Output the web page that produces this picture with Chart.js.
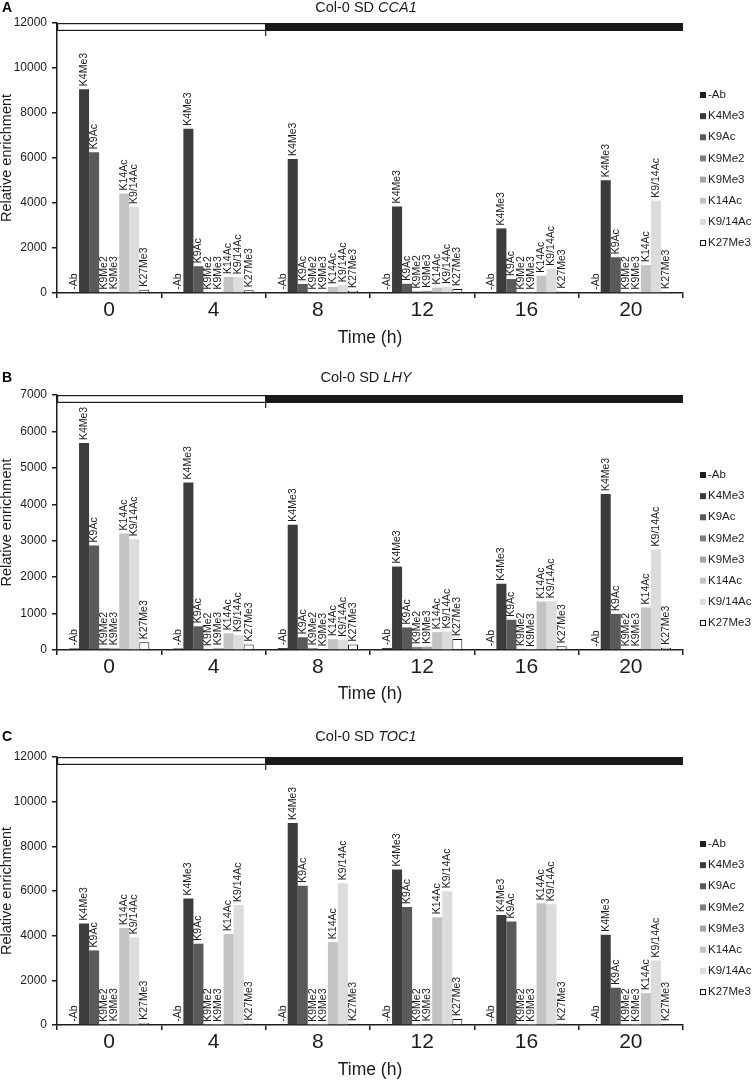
<!DOCTYPE html>
<html><head><meta charset="utf-8">
<script src="https://cdn.jsdelivr.net/npm/chart.js@4.4.0/dist/chart.umd.min.js"></script>
<style>
html,body{margin:0;padding:0;background:#fff;width:753px;height:1082px;overflow:hidden;}
.panel{position:absolute;left:0;width:753px;}
canvas{display:block;}
</style></head><body>
<div class="panel" style="top:0px;height:350px"><canvas id="cA" width="753" height="350"></canvas></div>
<div class="panel" style="top:350px;height:355px"><canvas id="cB" width="753" height="355"></canvas></div>
<div class="panel" style="top:705px;height:377px"><canvas id="cC" width="753" height="377"></canvas></div>
<script>
const FONT = '"Liberation Sans", Arial, Helvetica, sans-serif';
const INK = '#1c1c1c';

// ---- data ----
const timePoints = ['0', '4', '8', '12', '16', '20'];
const marks = ['-Ab', 'K4Me3', 'K9Ac', 'K9Me2', 'K9Me3', 'K14Ac', 'K9/14Ac', 'K27Me3'];

// A: Col-0 SD CCA1
const cca1_Ab     = [15, 10, 10, 10, 10, 10];
const cca1_K4Me3  = [9060, 7300, 5960, 3850, 2870, 5010];
const cca1_K9Ac   = [6260, 1190, 400, 410, 620, 1590];
const cca1_K9Me2  = [20, 20, 20, 70, 20, 20];
const cca1_K9Me3  = [30, 20, 20, 100, 20, 20];
const cca1_K14Ac  = [4420, 710, 270, 240, 770, 1240];
const cca1_K914Ac = [3820, 700, 350, 280, 1080, 4100];
const cca1_K27Me3 = [150, 120, 90, 180, 70, 50];

// B: Col-0 SD LHY
const lhy_Ab     = [40, 40, 50, 50, 20, 10];
const lhy_K4Me3  = [5680, 4600, 3440, 2290, 1820, 4280];
const lhy_K9Ac   = [2870, 650, 350, 620, 830, 990];
const lhy_K9Me2  = [50, 30, 50, 80, 30, 20];
const lhy_K9Me3  = [50, 50, 20, 90, 10, 20];
const lhy_K14Ac  = [3200, 460, 300, 490, 1330, 1170];
const lhy_K914Ac = [3040, 410, 280, 510, 1340, 2760];
const lhy_K27Me3 = [210, 150, 150, 300, 100, 60];

// C: Col-0 SD TOC1
const toc1_Ab     = [10, 10, 10, 10, 10, 10];
const toc1_K4Me3  = [4550, 5660, 9040, 6960, 4930, 4040];
const toc1_K9Ac   = [3340, 3640, 6230, 5280, 4630, 1670];
const toc1_K9Me2  = [10, 10, 10, 10, 10, 10];
const toc1_K9Me3  = [30, 10, 10, 30, 10, 10];
const toc1_K14Ac  = [4340, 4080, 3710, 4830, 5450, 1430];
const toc1_K914Ac = [3930, 5370, 6350, 5990, 5410, 2890];
const toc1_K27Me3 = [100, 70, 40, 270, 70, 40];

const yMaxA = 12000, yStepA = 2000;
const yMaxB = 7000,  yStepB = 1000;
const yMaxC = 12000, yStepC = 2000;

// ---- styles ----
const markFill = ['#1e1e1e', '#3c3c3c', '#5a5a5a', '#7e7e7e', '#a4a4a4', '#c3c3c3', '#dcdcdc', '#ffffff'];
const markBorder = ['#1e1e1e', '#3c3c3c', '#5a5a5a', '#7e7e7e', '#a4a4a4', '#c3c3c3', '#dcdcdc', '#111111'];

const panels = [
  { canvas: 'cA', letter: 'A', gene: 'CCA1', max: yMaxA, step: yStepA,
    series: [cca1_Ab, cca1_K4Me3, cca1_K9Ac, cca1_K9Me2, cca1_K9Me3, cca1_K14Ac, cca1_K914Ac, cca1_K27Me3],
    padTop: 23, xH: 57, titlePadBottom: 1.5, titleY: 8, legendTop: 95 },
  { canvas: 'cB', letter: 'B', gene: 'LHY', max: yMaxB, step: yStepB,
    series: [lhy_Ab, lhy_K4Me3, lhy_K9Ac, lhy_K9Me2, lhy_K9Me3, lhy_K14Ac, lhy_K914Ac, lhy_K27Me3],
    padTop: 45, xH: 55, titlePadBottom: 0, titleY: 28, legendTop: 125 },
  { canvas: 'cC', letter: 'C', gene: 'TOC1', max: yMaxC, step: yStepC,
    series: [toc1_Ab, toc1_K4Me3, toc1_K9Ac, toc1_K9Me2, toc1_K9Me3, toc1_K14Ac, toc1_K914Ac, toc1_K27Me3],
    padTop: 52, xH: 57, titlePadBottom: 1.5, titleY: 32, legendTop: 139 }
];

const decorPlugin = {
  id: 'decor',
  beforeDatasetsDraw(chart) {
    const ctx = chart.ctx, a = chart.chartArea, xs = chart.scales.x;
    const split = (xs.getPixelForValue(1) + xs.getPixelForValue(2)) / 2;
    const top = a.top, h = 8;
    ctx.save();
    ctx.fillStyle = '#1a1a1a';
    ctx.fillRect(split, top, a.right - split, h);
    ctx.fillStyle = '#ffffff';
    ctx.fillRect(a.left, top, split - a.left, h);
    ctx.strokeStyle = INK; ctx.lineWidth = 1.2;
    ctx.strokeRect(a.left + 0.6, top + 0.6, split - a.left - 0.6, h - 1.2);
    ctx.beginPath(); ctx.moveTo(split, top); ctx.lineTo(split, top + 13); ctx.stroke();
    ctx.restore();
  },
  afterDatasetsDraw(chart) {
    const ctx = chart.ctx;
    ctx.save();
    ctx.fillStyle = INK;
    ctx.font = '10.5px ' + FONT;
    ctx.textAlign = 'left';
    ctx.textBaseline = 'middle';
    chart.data.datasets.forEach((ds, i) => {
      const meta = chart.getDatasetMeta(i);
      meta.data.forEach(el => {
        ctx.save();
        ctx.translate(el.x, el.y - 3);
        ctx.rotate(-Math.PI / 2);
        ctx.fillText(ds.label, 0, 0);
        ctx.restore();
      });
    });
    ctx.restore();
  },
  afterDraw(chart) {
    const ctx = chart.ctx;
    const p = chart.options.plugins.decor;
    ctx.save();
    ctx.fillStyle = '#000';
    ctx.textBaseline = 'middle';
    ctx.textAlign = 'left';
    ctx.font = 'bold 14px ' + FONT;
    ctx.fillText(p.letter, 2, p.titleY);
    const t1 = 'Col-0 SD ';
    ctx.font = '14.5px ' + FONT;
    const w1 = ctx.measureText(t1).width;
    ctx.font = 'italic 14.5px ' + FONT;
    const w2 = ctx.measureText(p.gene).width;
    const x0 = 366 - (w1 + w2) / 2;
    ctx.fillStyle = INK;
    ctx.font = '14.5px ' + FONT;
    ctx.fillText(t1, x0, p.titleY);
    ctx.font = 'italic 14.5px ' + FONT;
    ctx.fillText(p.gene, x0 + w1, p.titleY);
    ctx.font = '11.5px ' + FONT;
    chart.data.datasets.forEach((ds, i) => {
      const y = p.legendTop + i * 21.15;
      ctx.fillStyle = ds.backgroundColor;
      ctx.fillRect(700, y - 3, 6, 6);
      if (ds.backgroundColor === '#ffffff') {
        ctx.strokeStyle = '#111'; ctx.lineWidth = 1;
        ctx.strokeRect(700.5, y - 2.5, 5, 5);
      }
      ctx.fillStyle = INK;
      ctx.fillText(ds.label, 708, y);
    });
    ctx.restore();
  }
};

panels.forEach(p => {
  const ctx = document.getElementById(p.canvas).getContext('2d');
  new Chart(ctx, {
    type: 'bar',
    data: {
      labels: timePoints,
      datasets: marks.map((m, i) => ({
        label: m,
        data: p.series[i],
        backgroundColor: markFill[i],
        borderColor: markBorder[i],
        borderWidth: i === 7 ? 1 : 0,
        categoryPercentage: 0.77,
        barPercentage: 1.0
      }))
    },
    options: {
      responsive: false,
      animation: false,
      devicePixelRatio: 1,
      layout: { padding: { top: p.padTop, right: 70, bottom: 0, left: 0 } },
      plugins: {
        legend: { display: false },
        tooltip: { enabled: false },
        decor: { letter: p.letter, gene: p.gene, titleY: p.titleY, legendTop: p.legendTop }
      },
      scales: {
        x: {
          grid: { display: true, drawOnChartArea: false, drawTicks: true, tickLength: 5, color: INK, lineWidth: 1.5, offset: true },
          border: { display: true, color: INK, width: 1.5 },
          ticks: { font: { size: 21, family: FONT }, color: INK, padding: 0 },
          title: { display: true, text: 'Time (h)', font: { size: 17.5, family: FONT }, color: INK, padding: { top: 0, bottom: p.titlePadBottom } },
          afterFit(s) { s.height = p.xH; }
        },
        y: {
          min: 0, max: p.max,
          grid: { display: true, drawOnChartArea: false, drawTicks: true, tickLength: 5, color: INK, lineWidth: 1.5 },
          border: { display: true, color: INK, width: 1.5 },
          ticks: { stepSize: p.step, font: { size: 12, family: FONT }, color: INK, padding: 5, callback: v => String(v) },
          title: { display: true, text: 'Relative enrichment', font: { size: 14.5, family: FONT, lineHeight: 1 }, color: INK, padding: { top: 0, bottom: 0 } },
          afterFit(s) { s.width = 57; }
        }
      }
    },
    plugins: [decorPlugin]
  });
});
</script>
</body></html>
